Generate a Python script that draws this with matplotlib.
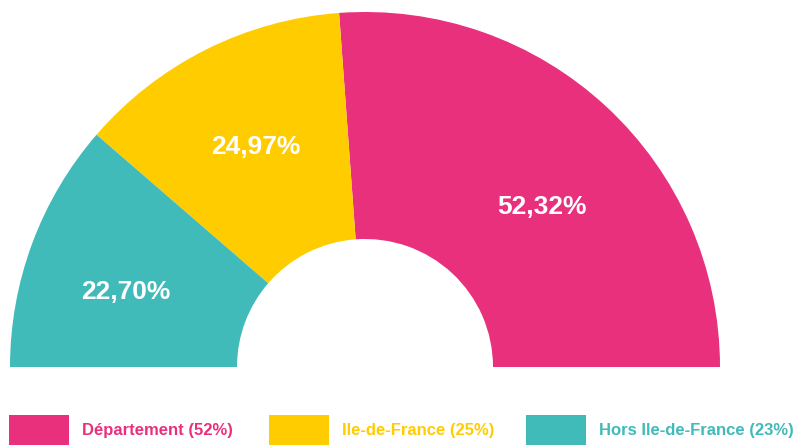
import matplotlib
matplotlib.use('Agg')
import matplotlib.pyplot as plt
from matplotlib.patches import Rectangle

labels = ['Département', 'Ile-de-France', 'Hors Ile-de-France']
values = [52.32, 24.97, 22.70]
pct_text = ['52,32%', '24,97%', '22,70%']
legend_text = ['Département (52%)', 'Ile-de-France (25%)', 'Hors Ile-de-France (23%)']
colors = ['#E8307D', '#FFCC00', '#41BABA']

W, H = 799, 445
fig = plt.figure(figsize=(W / 100, H / 100), dpi=100)
ax = fig.add_axes([0, 0, 1, 1])
plt.rcParams['font.family'] = ['Liberation Sans', 'DejaVu Sans']

# half donut: add an invisible lower half equal to the total
cx, cy, r_out, r_in = 365, H - 367, 355, 128
ax.pie(values + [sum(values)], colors=colors + ['none'], radius=r_out, center=(cx, cy),
       startangle=0, counterclock=True, wedgeprops=dict(width=r_out - r_in, linewidth=0))
ax.set_xlim(0, W); ax.set_ylim(0, H); ax.set_aspect('auto'); ax.axis('off')

# value labels (pixel positions from the reference)
for t, (x, y) in zip(pct_text, [(542, 207), (256, 147), (126, 292)]):
    ax.text(x, H - y, t, color='white', fontsize=19, fontweight='bold', ha='center', va='center')

# legend
for c, t, bx in zip(colors, legend_text, [9, 269, 526]):
    ax.add_patch(Rectangle((bx, 0), 60, H - 415, color=c, lw=0))
    ax.text(bx + 73, H - 430, t, color=c, fontsize=12, fontweight='bold', ha='left', va='center')

fig.savefig('out.png', dpi=100)
